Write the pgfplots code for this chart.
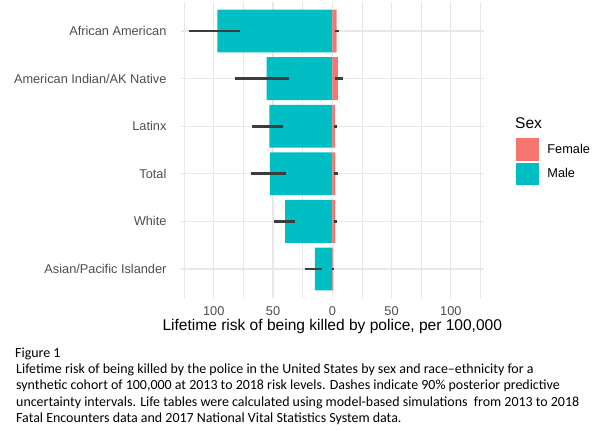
\documentclass[border=0pt]{standalone}
\usepackage{fontspec}
\setmainfont{Liberation Sans}
\newfontfamily\capfont{Carlito}[Ligatures=TeX]
\usepackage{pgfplots}
\pgfplotsset{compat=1.18}
\definecolor{femalec}{HTML}{F8766D}
\definecolor{malec}{HTML}{00BFC4}
\definecolor{gridc}{HTML}{E8E8E8}
\definecolor{labc}{HTML}{4D4D4D}
\definecolor{errc}{HTML}{3C3C3C}
\begin{document}
\begin{tikzpicture}
\useasboundingbox (0,0) rectangle (611bp,431bp);
\begin{axis}[
  at={(180.6bp,133.4bp)}, anchor=south west,
  scale only axis, width=303.4bp, height=295.2bp,
  xmin=-128, xmax=128, ymin=-0.6, ymax=5.6,
  axis line style={draw=none},
  major tick length=0pt, minor tick length=0pt,
  xtick={-100,-50,0,50,100}, xticklabels={100,50,0,50,100},
  minor xtick={-125,-75,-25,25,75,125},
  ytick={0,1,2,3,4,5},
  yticklabels={Asian/Pacific Islander, White, Total, Latinx, American Indian/AK Native, African American},
  xmajorgrids, xminorgrids, ymajorgrids,
  major grid style={gridc, line width=1.2bp},
  minor grid style={gridc, line width=0.8bp},
  tick label style={font=\fontsize{12.8}{14}\selectfont, text=labc},
  /pgf/number format/assume math mode=true,
  yticklabel style={anchor=east, inner sep=0pt, xshift=-14bp},
  xticklabel style={anchor=north, inner sep=0pt, yshift=-8.5bp},
  xlabel={Lifetime risk of being killed by police, per 100,000},
  xlabel style={at={(axis description cs:0.5,0)}, anchor=base, yshift=-33.4bp, inner sep=0pt, font=\fontsize{15.6}{18}\selectfont},
  legend cell align=left,
  legend style={at={(1.1055,0.5396)}, anchor=north west, draw=none, fill=none, inner sep=0pt, outer sep=0pt,
    font=\fontsize{12.8}{14}\selectfont, row sep=2.5bp, nodes={inner sep=0pt},
    /tikz/every odd column/.append style={column sep=9bp}},
]
\addlegendimage{legend image code/.code={\fill[femalec] (0bp,-10.7bp) rectangle (22bp,10.7bp);}}
\addlegendentry{Female}
\addlegendimage{legend image code/.code={\fill[malec] (0bp,-10.7bp) rectangle (22bp,10.7bp);}}
\addlegendentry{Male}
% Male (plotted as negative)
\addplot[xbar, bar width=0.9, bar shift=0pt, fill=malec, draw=none, forget plot]
  coordinates {(-97.0,5) (-55.4,4) (-53.2,3) (-52.6,2) (-39.9,1) (-14.6,0)};
% Female
\addplot[xbar, bar width=0.9, bar shift=0pt, fill=femalec, draw=none, forget plot]
  coordinates {(3.7,5) (4.6,4) (2.3,3) (2.5,2) (2.6,1) (1.0,0)};
% Male uncertainty intervals
\addplot[errc, line width=2.7bp, forget plot] coordinates {(-121,5) (-77.9,5)};
\addplot[errc, line width=2.7bp, forget plot] coordinates {(-81.9,4) (-36.3,4)};
\addplot[errc, line width=2.7bp, forget plot] coordinates {(-67.8,3) (-41.4,3)};
\addplot[errc, line width=2.7bp, forget plot] coordinates {(-68.9,2) (-39.1,2)};
\addplot[errc, line width=2.7bp, forget plot] coordinates {(-49.2,1) (-31.2,1)};
\addplot[errc, line width=2.7bp, forget plot] coordinates {(-22.8,0) (-8.9,0)};
% Female uncertainty intervals
\addplot[errc, line width=2.7bp, forget plot] coordinates {(2.3,5) (6.0,5)};
\addplot[errc, line width=2.7bp, forget plot] coordinates {(2.3,4) (9.0,4)};
\addplot[errc, line width=2.7bp, forget plot] coordinates {(1.7,3) (3.7,3)};
\addplot[errc, line width=2.7bp, forget plot] coordinates {(1.7,2) (4.4,2)};
\addplot[errc, line width=2.7bp, forget plot] coordinates {(1.5,1) (4.3,1)};
\addplot[errc, line width=2.7bp, forget plot] coordinates {(0.0,0) (1.5,0)};
\end{axis}
\node[anchor=base west, inner sep=0pt, font=\fontsize{15.6}{18}\selectfont] at (515bp,302.7bp) {Sex};
\begin{scope}[every node/.style={anchor=base west, inner sep=0pt, font=\capfont\fontsize{14}{16}\selectfont}]
\node at (15bp,73.7bp) {Figure 1};
\node at (16bp,57bp) {Lifetime risk of being killed by the police in the United States by sex and race–ethnicity for a};
\node at (16bp,41bp) {synthetic cohort of 100,000 at 2013 to 2018 risk levels. Dashes indicate 90\% posterior predictive};
\node at (16bp,24.3bp) {uncertainty intervals. Life tables were calculated using model-based simulations\ \ from 2013 to 2018};
\node at (16bp,8.7bp) {Fatal Encounters data and 2017 National Vital Statistics System data.};
\end{scope}
\end{tikzpicture}
\end{document}
